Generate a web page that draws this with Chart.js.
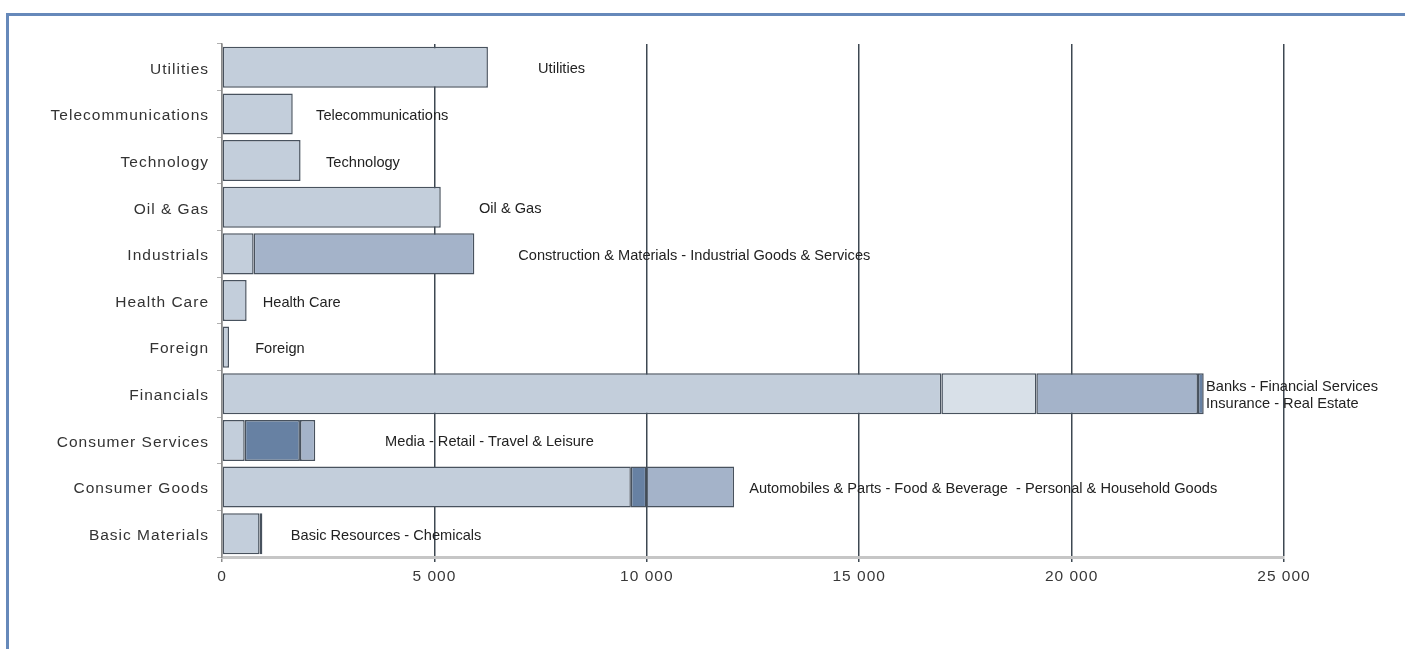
<!DOCTYPE html>
<html><head><meta charset="utf-8">
<script src="https://cdn.jsdelivr.net/npm/chart.js@4"></script>
<style>
html,body{margin:0;padding:0;background:#fff;}
#wrap{position:relative;width:1405px;height:649px;overflow:hidden;background:#fff;}
#frame{position:absolute;left:6px;top:13px;right:-10px;bottom:-10px;border-top:3px solid #6689ba;border-left:3px solid #6689ba;}
canvas{position:absolute;left:0;top:0;}
</style></head><body>
<div id="wrap"><div id="frame"></div><canvas id="c" width="1405" height="649"></canvas></div>
<script>
// ---- data ----
const categories = ["Utilities","Telecommunications","Technology","Oil & Gas","Industrials","Health Care","Foreign","Financials","Consumer Services","Consumer Goods","Basic Materials"];
const seg1 = [6260, 1665, 1850, 5150, 745, 580, 165, 16935, 535, 9625, 885];
const seg2 = [null, null, null, null, 5195, null, null, 2235, 1300, 365, 65];
const seg3 = [null, null, null, null, null, null, null, 3805, 360, 2065, null];
const seg4 = [null, null, null, null, null, null, null, 135, null, null, null];
const annotationText = [
  ["Utilities"],
  ["Telecommunications"],
  ["Technology"],
  ["Oil & Gas"],
  ["Construction & Materials - Industrial Goods & Services"],
  ["Health Care"],
  ["Foreign"],
  ["Banks - Financial Services","Insurance - Real Estate"],
  ["Media - Retail - Travel & Leisure"],
  ["Automobiles & Parts - Food & Beverage  - Personal & Household Goods"],
  ["Basic Resources - Chemicals"]
];
const annotationAt = [7440, 2215, 2450, 6050, 6975, 960, 780, 23165, 3840, 12410, 1620];
const xTicks = [0, 5000, 10000, 15000, 20000, 25000];

// ---- styles ----
const C = {light:'#c3cedb', lighter:'#d8e0e8', medium:'#a4b3c9', dark:'#6781a3'};
const seg1Col = categories.map(()=>C.light);
const seg2Col = ['light','light','light','light','medium','light','light','lighter','dark','dark','dark'].map(k=>C[k]);
const seg3Col = ['light','light','light','light','light','light','light','medium','medium','medium','light'].map(k=>C[k]);
const seg4Col = categories.map(()=>C.dark);

function fmt(v){return String(v).replace(/\B(?=(\d{3})+(?!\d))/g,' ');}

const spacingPlugin = {
  id:'spacing',
  beforeDraw(chart){ chart.ctx.letterSpacing = '1px'; }
};
const annotationPlugin = {
  id:'annot',
  afterDatasetsDraw(chart){
    const ctx = chart.ctx, xs = chart.scales.x, ys = chart.scales.y;
    ctx.save();
    ctx.letterSpacing = '0px';
    ctx.font = '14.6px "Liberation Sans", Arial, sans-serif';
    ctx.fillStyle = '#222';
    ctx.textAlign = 'left';
    ctx.textBaseline = 'middle';
    annotationText.forEach((lines,i)=>{
      const x = xs.getPixelForValue(annotationAt[i]);
      const y = ys.getPixelForValue(i) + 2;
      lines.forEach((t,k)=>ctx.fillText(t, x, y + (k-(lines.length-1)/2)*17));
    });
    ctx.restore();
  }
};

const mk = (data,col)=>({data, backgroundColor:col, borderColor:'#48525e', borderWidth:1.5, borderSkipped:false, barPercentage:0.88, categoryPercentage:1});

new Chart(document.getElementById('c'), {
  type:'bar',
  data:{
    labels:categories,
    datasets:[mk(seg1,seg1Col), mk(seg2,seg2Col), mk(seg3,seg3Col), mk(seg4,seg4Col)]
  },
  options:{
    indexAxis:'y',
    responsive:false,
    animation:false,
    devicePixelRatio:1,
    layout:{padding:{left:0,right:121,top:44,bottom:52}},
    plugins:{legend:{display:false}, tooltip:{enabled:false}},
    scales:{
      x:{
        stacked:true, min:0, max:25000,
        afterBuildTicks(s){ s.ticks = xTicks.map(v=>({value:v})); },
        afterFit(s){ s.height = 40; },
        ticks:{callback:v=>fmt(v), color:'#383838', padding:5, maxRotation:0, font:{family:'"Liberation Sans", Arial, sans-serif', size:15.5}},
        grid:{color:(c)=>c.index===0?'#8a8a8a':'#3e4852', lineWidth:1.5, tickLength:5, drawTicks:true},
        border:{display:true, color:'#c6c6c6', width:3}
      },
      y:{
        stacked:true,
        afterFit(s){ s.width = 222; },
        ticks:{color:'#333', padding:8, labelOffset:2, font:{family:'"Liberation Sans", Arial, sans-serif', size:15.5}},
        grid:{drawOnChartArea:false, drawTicks:true, tickLength:5, color:'#b0b0b0', lineWidth:1, offset:true},
        border:{display:true, color:'#8a8a8a', width:1.5}
      }
    }
  },
  plugins:[spacingPlugin, annotationPlugin]
});
</script>
</body></html>
